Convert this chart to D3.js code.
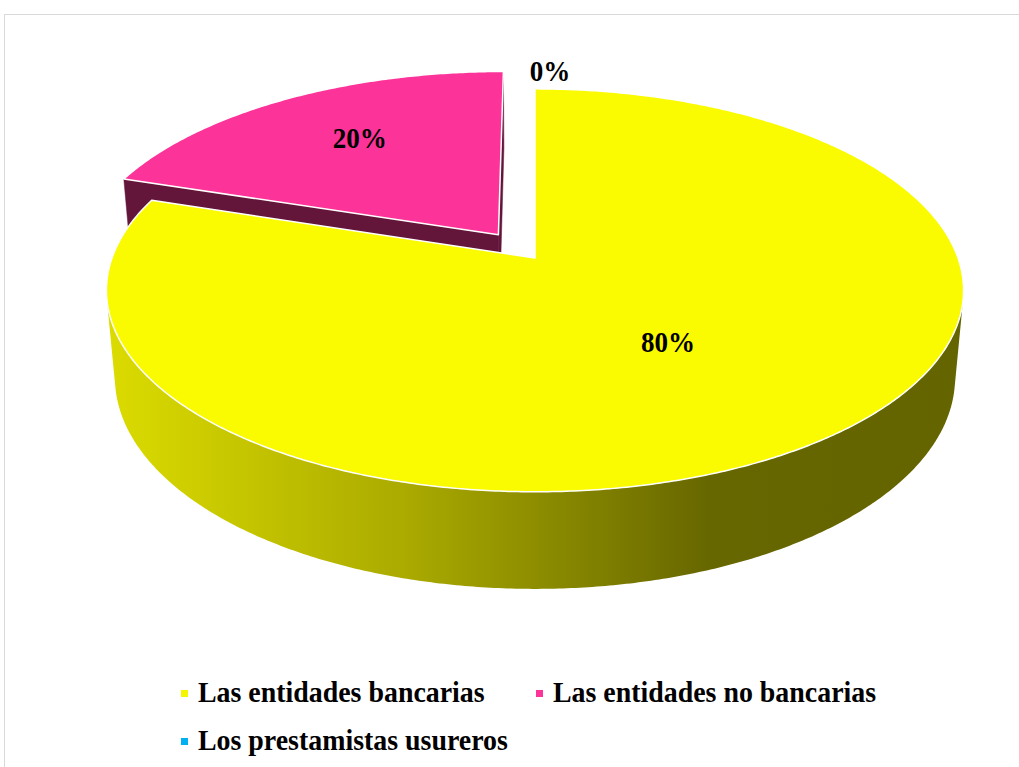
<!DOCTYPE html>
<html>
<head>
<meta charset="utf-8">
<script src="https://cdn.jsdelivr.net/npm/d3@7"></script>
<style>
  html, body { margin: 0; padding: 0; background: #ffffff; }
  svg { display: block; }
</style>
</head>
<body>
<svg id="chart" width="1019" height="767"></svg>
<script>
// ---- data ----
const categories = ["Las entidades bancarias", "Las entidades no bancarias", "Los prestamistas usureros"];
const values = [80, 20, 0];
const valueLabels = ["80%", "20%", "0%"];
const explode = [0, 0.15, 0];

// ---- styles ----
const topColors = ["#fafa00", "#fc3399", "#00b0f0"];
const cutColors = ["#8a8a00", "#63163a", "#005f80"];
const legendColors = ["#f5f500", "#fc3399", "#00b0f0"];

const svg = d3.select("#chart");

// frame
svg.append("rect").attr("x", 4.5).attr("y", 14.5).attr("width", 1100).attr("height", 800)
  .attr("fill", "#ffffff").attr("stroke", "#d9d9d9").attr("stroke-width", 1);

// ---- 3D perspective projection ----
const cx = 535, cy = 258;
const tilt = Math.asin(0.464);
const cs = Math.cos(tilt), sn = Math.sin(tilt);
const D = 5.52, F = 2335, T = 0.235;

function proj(u, v, h) {
  const xc = u;
  const yc = h * cs + v * sn;
  const zc = -h * sn + v * cs;
  return [cx + F * xc / (D + zc), cy - F * yc / (D + zc)];
}

const pie = d3.pie().sort(null).value(d => d);
const arcs = pie(values);
const line = d3.line();

function offsetOf(i, a) {
  const mid = (a.startAngle + a.endAngle) / 2;
  return [explode[i] * Math.sin(mid), explode[i] * Math.cos(mid)];
}
function rimPt(theta, r, h, off) {
  return proj(r * Math.sin(theta) + off[0], r * Math.cos(theta) + off[1], h);
}
function arcPts(a0, a1, h, off) {
  const n = Math.max(2, Math.ceil(Math.abs(a1 - a0) / (Math.PI / 360)));
  const pts = [];
  for (let k = 0; k <= n; k++) {
    const t = a0 + (a1 - a0) * k / n;
    pts.push(rimPt(t, 1, h, off));
  }
  return pts;
}

const camU = 0, camV = -D * cs;

const defs = svg.append("defs");
const grad = defs.append("linearGradient").attr("id", "wallGrad")
  .attr("gradientUnits", "userSpaceOnUse")
  .attr("x1", 105).attr("y1", 0).attr("x2", 966).attr("y2", 0);
grad.append("stop").attr("offset", "0%").attr("stop-color", "#dcdc00");
grad.append("stop").attr("offset", "35%").attr("stop-color", "#aaaa00");
grad.append("stop").attr("offset", "70%").attr("stop-color", "#676700");
grad.append("stop").attr("offset", "100%").attr("stop-color", "#646400");

const g = svg.append("g");

const order = arcs.map((a, i) => i).filter(i => values[i] > 0).sort((i, j) => {
  const mi = (arcs[i].startAngle + arcs[i].endAngle) / 2;
  const mj = (arcs[j].startAngle + arcs[j].endAngle) / 2;
  return Math.cos(mj) - Math.cos(mi);
});

order.forEach(i => {
  const a = arcs[i];
  const off = offsetOf(i, a);
  const apexTop = proj(off[0], off[1], 0);
  const apexBot = proj(off[0], off[1], -T);

  [[a.startAngle, a.startAngle - Math.PI / 2], [a.endAngle, a.endAngle + Math.PI / 2]].forEach(([ang, nAng]) => {
    const n = [Math.sin(nAng), Math.cos(nAng)];
    const dot = (camU - off[0]) * n[0] + (camV - off[1]) * n[1];
    if (dot > 0.001) {
      const pts = [apexTop, rimPt(ang, 1, 0, off), rimPt(ang, 1, -T, off), apexBot];
      g.append("path").attr("d", line(pts) + "Z")
        .attr("fill", cutColors[i]).attr("stroke", cutColors[i]).attr("stroke-width", 0.5);
    }
  });

  const step = Math.PI / 720;
  let vis0 = null, vis1 = null;
  for (let t = a.startAngle; t <= a.endAngle + 1e-9; t += step) {
    const u = Math.sin(t) + off[0], v = Math.cos(t) + off[1];
    const dot = (camU - u) * Math.sin(t) + (camV - v) * Math.cos(t);
    if (dot > 0) { if (vis0 === null) vis0 = t; vis1 = t; }
  }
  if (vis0 !== null && vis1 > vis0) {
    const topA = arcPts(vis0, vis1, 0, off);
    const botA = arcPts(vis1, vis0, -T, off);
    g.append("path").attr("d", line(topA.concat(botA)) + "Z")
      .attr("fill", i === 0 ? "url(#wallGrad)" : cutColors[i]);
  }

  const topPts = [apexTop].concat(arcPts(a.startAngle, a.endAngle, 0, off));
  g.append("path").attr("d", line(topPts) + "Z")
    .attr("fill", topColors[i]).attr("stroke", "#ffffff").attr("stroke-width", 1.5)
    .attr("stroke-linejoin", "round");
});

// ---- data labels ----
const labelR = [0.5, 0.68, 1.12];
const labelDx = [0, 11, 15];
arcs.forEach((a, i) => {
  const off = offsetOf(i, a);
  const mid = (a.startAngle + a.endAngle) / 2;
  const p = rimPt(mid, labelR[i], 0, off);
  svg.append("text")
    .attr("transform", `translate(${p[0] + labelDx[i]},${p[1] - 1}) scale(0.95,1)`)
    .attr("dy", "0.35em")
    .attr("text-anchor", "middle")
    .attr("font-family", "'Liberation Serif', 'Times New Roman', serif")
    .attr("font-weight", "bold")
    .attr("font-size", 28.5)
    .attr("fill", "#000000")
    .text(valueLabels[i]);
});

// ---- legend ----
const legendPos = [[180, 702], [535, 702], [180, 750]];
categories.forEach((c, i) => {
  const [lx, ly] = legendPos[i];
  svg.append("rect").attr("x", lx + 1).attr("y", ly - 12).attr("width", 7).attr("height", 7)
    .attr("fill", legendColors[i]);
  svg.append("text")
    .attr("transform", `translate(${lx + 18},${ly}) scale(0.93,1)`)
    .attr("font-family", "'Liberation Serif', 'Times New Roman', serif")
    .attr("font-weight", "bold")
    .attr("font-size", 30)
    .attr("fill", "#000000")
    .text(c);
});
</script>
</body>
</html>
